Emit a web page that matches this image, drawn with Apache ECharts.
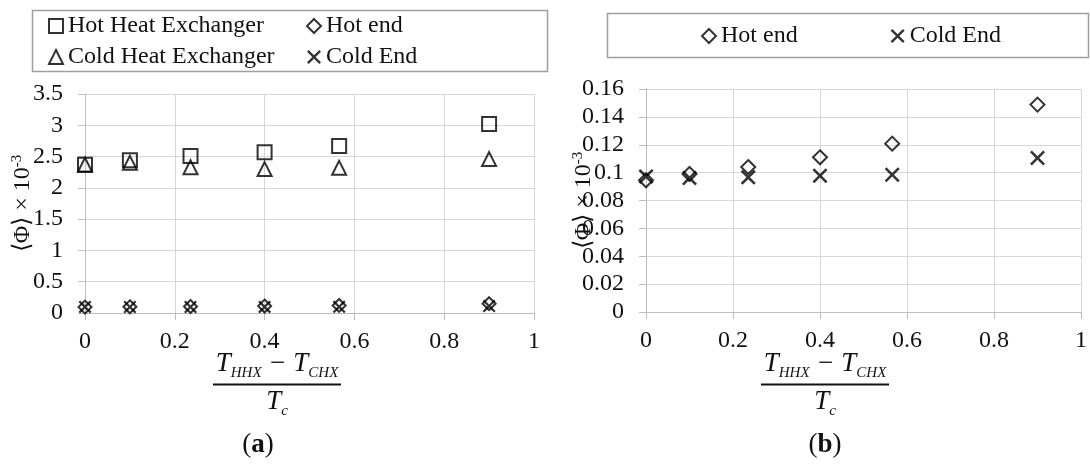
<!DOCTYPE html>
<html>
<head>
<meta charset="utf-8">
<script src="https://cdn.jsdelivr.net/npm/echarts@6/dist/echarts.min.js"></script>
<style>
  html, body { margin: 0; padding: 0; background: #fff; }
  #chart { width: 1090px; height: 465px; }
</style>
</head>
<body>
<div id="chart"></div>
<script>
// Normalised temperature difference (T_HHX - T_CHX) / T_c
const xLevels = [0, 0.1, 0.235, 0.4, 0.566, 0.9];

// Time-averaged <Phi> x 10^-3 per location
const hotHX   = [2.37, 2.44, 2.51, 2.57, 2.67, 3.02];
const coldHX  = [2.37, 2.40, 2.33, 2.30, 2.32, 2.46];
const hotEnd  = [0.0945, 0.099, 0.104, 0.111, 0.1208, 0.1488];
const coldEnd = [0.0973, 0.0961, 0.0966, 0.0978, 0.0985, 0.1105];

const seriesNames = ['Hot Heat Exchanger', 'Cold Heat Exchanger', 'Hot end', 'Cold End'];
const panelTags = ['a', 'b'];

const FONT = 'Liberation Serif';
const GRID = '#d6d6d6';
const AXIS = '#bdbdbd';
const CROSS = 'path://M1.2,0L5,3.8L8.8,0L10,1.2L6.2,5L10,8.8L8.8,10L5,6.2L1.2,10L0,8.8L3.8,5L0,1.2Z';

const pairs = (ys) => xLevels.map((x, i) => [x, ys[i]]);

const hollow = { color: 'rgba(0,0,0,0)', borderColor: '#000', borderWidth: 2 };

function xAxisCfg(gridIndex) {
  return {
    type: 'value', gridIndex, min: 0, max: 1, interval: 0.2,
    axisLine: { show: true, lineStyle: { color: AXIS, width: 1 } },
    axisTick: { show: true, length: 7, lineStyle: { color: AXIS } },
    splitLine: { show: true, lineStyle: { color: GRID, width: 1 } },
    axisLabel: { color: '#111', fontFamily: FONT, fontSize: 24, margin: 17 }
  };
}

function yAxisCfg(gridIndex, max, interval) {
  return {
    type: 'value', gridIndex, min: 0, max, interval,
    axisLine: { show: true, lineStyle: { color: AXIS, width: 1 } },
    axisTick: { show: true, length: 7, lineStyle: { color: AXIS } },
    splitLine: { show: true, lineStyle: { color: GRID, width: 1 } },
    axisLabel: { color: '#111', fontFamily: FONT, fontSize: 24, margin: 22 },
    name: '{m|⟨Φ⟩ × 10}{s|-3}',
    nameLocation: 'middle', nameRotate: 90, nameGap: 49,
    nameMoveOverlap: false,
    nameTextStyle: {
      rich: {
        m: { fontFamily: FONT, fontSize: 24, color: '#111', lineHeight: 26 },
        s: { fontFamily: FONT, fontSize: 15, color: '#111', verticalAlign: 'top', lineHeight: 26 }
      }
    }
  };
}

// Stacked fraction (T_HHX - T_CHX) / T_c used as the x-axis caption
function fraction(cx) {
  const it = { fontFamily: FONT, fontStyle: 'italic', fontSize: 27, fill: '#111', padding: [0, 0, 4, 0] };
  const sub = { fontFamily: FONT, fontStyle: 'italic', fontSize: 15, fill: '#111', verticalAlign: 'bottom' };
  return [
    {
      type: 'text', x: cx, y: 381,
      style: {
        text: '{i|T}{s|HHX}{i| − T}{s|CHX}',
        align: 'center', verticalAlign: 'bottom',
        rich: { i: it, s: sub }
      }
    },
    {
      type: 'line',
      shape: { x1: cx - 64, y1: 384.5, x2: cx + 64, y2: 384.5 },
      style: { stroke: '#111', lineWidth: 2 }
    },
    {
      type: 'text', x: cx, y: 388,
      style: {
        text: '{i|T}{s|c}',
        align: 'center', verticalAlign: 'top',
        rich: { i: it, s: sub }
      }
    }
  ];
}

function caption(cx, tag) {
  return {
    type: 'text', x: cx, y: 445,
    style: {
      text: '{p|(}{b|' + tag + '}{p|)}',
      align: 'center', verticalAlign: 'middle',
      rich: {
        p: { fontFamily: FONT, fontSize: 27, fill: '#111' },
        b: { fontFamily: FONT, fontSize: 27, fontWeight: 'bold', fill: '#111' }
      }
    }
  };
}

const legendText = { fontFamily: FONT, fontSize: 24, color: '#111', lineHeight: 24 };

const option = {
  animation: false,
  backgroundColor: '#fff',
  textStyle: { fontFamily: FONT },
  grid: [
    { left: 85, right: 556, top: 94, bottom: 152 },
    { left: 646, right: 6, top: 89, bottom: 153 }
  ],
  xAxis: [xAxisCfg(0), xAxisCfg(1)],
  yAxis: [yAxisCfg(0, 3.5, 0.5), yAxisCfg(1, 0.16, 0.02)],
  legend: [
    {
      orient: 'vertical', left: 48, top: 14, padding: 0, itemGap: 7,
      itemWidth: 14, itemHeight: 14, textStyle: legendText,
      data: [seriesNames[0], seriesNames[1]]
    },
    {
      orient: 'vertical', left: 306, top: 14, padding: 0, itemGap: 7,
      itemWidth: 14, itemHeight: 14, textStyle: legendText,
      data: [seriesNames[2], seriesNames[3]]
    },
    {
      orient: 'horizontal', left: 701, top: 24, padding: 0, itemGap: 93,
      itemWidth: 14, itemHeight: 14, textStyle: legendText,
      data: [seriesNames[2], seriesNames[3]]
    }
  ],
  graphic: [
    { type: 'rect', shape: { x: 32.5, y: 10.5, width: 515, height: 61 },
      style: { fill: 'none', stroke: '#9e9e9e', lineWidth: 1.5 } },
    { type: 'rect', shape: { x: 607.5, y: 13.5, width: 481, height: 44 },
      style: { fill: 'none', stroke: '#9e9e9e', lineWidth: 1.5 } },
    ...fraction(277),
    ...fraction(825),
    caption(258, panelTags[0]),
    caption(825, panelTags[1])
  ],
  series: [
    { name: seriesNames[0], type: 'scatter', xAxisIndex: 0, yAxisIndex: 0,
      symbol: 'rect', symbolSize: 14, itemStyle: hollow, data: pairs(hotHX) },
    { name: seriesNames[1], type: 'scatter', xAxisIndex: 0, yAxisIndex: 0,
      symbol: 'triangle', symbolSize: 14, itemStyle: hollow, data: pairs(coldHX) },
    { name: seriesNames[2], type: 'scatter', xAxisIndex: 0, yAxisIndex: 0,
      symbol: 'diamond', symbolSize: 13, itemStyle: hollow, data: pairs(hotEnd) },
    { name: seriesNames[3], type: 'scatter', xAxisIndex: 0, yAxisIndex: 0,
      symbol: CROSS, symbolSize: 13, itemStyle: { color: '#000' }, data: pairs(coldEnd) },
    { name: seriesNames[2], type: 'scatter', xAxisIndex: 1, yAxisIndex: 1,
      symbol: 'diamond', symbolSize: 14, itemStyle: hollow, data: pairs(hotEnd) },
    { name: seriesNames[3], type: 'scatter', xAxisIndex: 1, yAxisIndex: 1,
      symbol: CROSS, symbolSize: 15, itemStyle: { color: '#000' }, data: pairs(coldEnd) }
  ]
};

const chart = echarts.init(document.getElementById('chart'), null, { renderer: 'canvas' });
chart.setOption(option);
</script>
</body>
</html>
